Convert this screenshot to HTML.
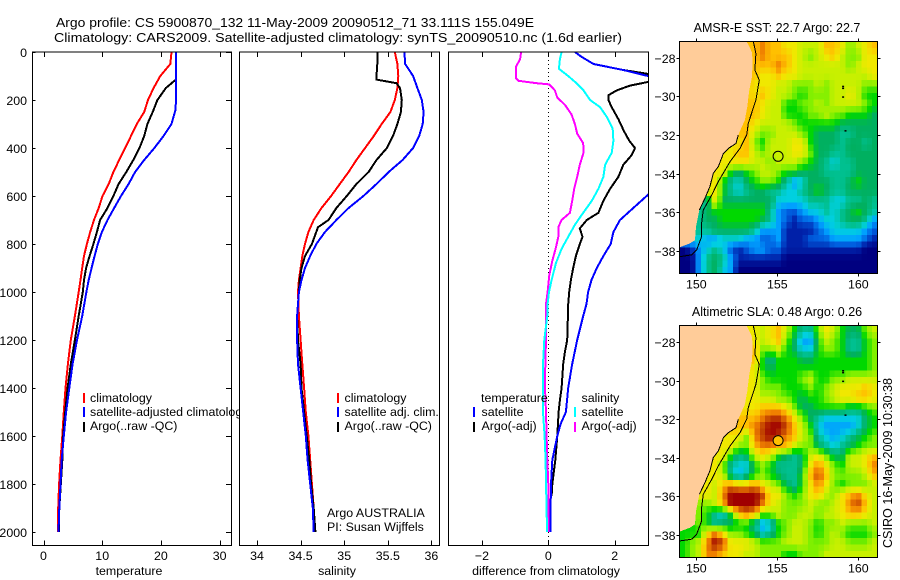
<!DOCTYPE html>
<html lang="en">
<head>
<meta charset="utf-8">
<title>Argo profile chart</title>
<style>
html,body{margin:0;padding:0;background:#fff;}
svg{display:block;font-family:"Liberation Sans",sans-serif;font-size:12.4px;fill:#000;}
text{fill:#000;}
</style>
</head>
<body>
<svg id="chart" xmlns="http://www.w3.org/2000/svg" width="900" height="580" viewBox="0 0 900 580">
  <rect x="0" y="0" width="900" height="580" fill="#fff"/>
  <text x="56" y="27" font-size="13" textLength="478" lengthAdjust="spacingAndGlyphs">Argo profile: CS 5900870_132 11-May-2009 20090512_71 33.111S 155.049E</text>
  <text x="54" y="42" font-size="13" textLength="568" lengthAdjust="spacingAndGlyphs">Climatology: CARS2009. Satellite-adjusted climatology: synTS_20090510.nc (1.6d earlier)</text>
  <g id="panel-t"></g>
  <g id="panel-s"></g>
  <g id="panel-d"></g>
  <g id="map-sst"></g>
  <g id="map-sla"></g>
  <text x="777" y="32" text-anchor="middle" font-size="12.5">AMSR-E SST: 22.7 Argo: 22.7</text>
  <text x="777" y="316" text-anchor="middle" font-size="12.5">Altimetric SLA: 0.48 Argo: 0.26</text>
  <text transform="translate(892,463) rotate(-90)" text-anchor="middle" font-size="12.6">CSIRO 16-May-2009 10:30:38</text>
</svg>
<script>
// ---------- profile data ----------
const depths = [0,50,100,150,200,250,300,350,400,450,500,550,600,650,700,750,800,850,900,950,1000,1100,1200,1300,1400,1500,1600,1700,1800,1900,2000];
const tempClim = [21.8,21.6,19.9,18.75,17.8,17.15,15.9,14.9,13.9,12.9,11.9,11.1,10.05,9.4,8.6,7.95,7.4,6.9,6.6,6.3,6.0,5.35,4.65,4.15,3.75,3.45,3.2,2.9,2.65,2.5,2.45];
const tempSatDepths = [0,50,100,150,200,240,300,350,400,450,500,550,600,650,700,750,800,850,900,950,1000,1100,1200,1300,1400,1500,1600,1700,1800,1900,2000];
const tempSat = [22.55,22.55,22.55,22.55,22.55,22.5,21.8,20.45,18.9,17.15,15.6,14.5,13.2,12.05,10.9,9.95,9.25,8.7,8.2,7.7,7.3,6.6,5.7,4.95,4.4,3.85,3.45,3.1,2.9,2.7,2.55];
const argoTempDepths = [0,115,120,150,200,250,300,350,400,450,500,550,600,650,700,750,800,850,900,950,1000,1100,1200,1300,1400,1500,1600,1700,1800,1900,2000];
const tempArgo = [22.6,22.6,22.3,20.85,19.4,18.6,17.7,17.15,16.35,15.3,14.1,12.8,11.9,10.9,9.65,9.1,8.5,7.85,7.25,6.9,6.7,6.0,5.35,4.65,4.1,3.7,3.35,3.2,2.95,2.7,2.6];
const salClim = [35.58,35.61,35.62,35.61,35.58,35.53,35.43,35.34,35.24,35.14,35.05,34.95,34.85,34.74,34.65,34.59,34.55,34.52,34.5,34.48,34.47,34.48,34.5,34.52,34.54,34.56,34.59,34.61,34.63,34.65,34.66];
const salSat = [35.69,35.7,35.79,35.84,35.89,35.91,35.9,35.86,35.79,35.67,35.51,35.37,35.22,35.05,34.91,34.78,34.68,34.61,34.55,34.51,34.48,34.46,34.46,34.47,34.5,34.53,34.56,34.58,34.61,34.64,34.65];
const argoSalDepths = [0,50,100,115,130,150,200,250,300,350,400,450,500,550,600,650,700,730,800,850,900,950,1000,1100,1200,1300,1400,1500,1600,1700,1800,1900,2000];
const salArgo = [35.38,35.38,35.37,35.37,35.6,35.64,35.66,35.65,35.61,35.56,35.49,35.37,35.28,35.14,35.03,34.91,34.82,34.7,34.63,34.55,34.51,34.49,34.48,34.46,34.47,34.5,34.51,34.54,34.57,34.6,34.62,34.65,34.67];
const diffTempSatDepths = [0,20,50,75,100,200,300,400,500,600,650,700,750,800,850,900,950,1000,1050,1100,1200,1300,1400,1500,1550,1600,1700,1800,1900,2000];
const diffTempSat = [0.8,1.0,1.36,2.26,3.0,4.6,5.9,5.0,3.7,2.96,2.56,2.16,1.96,1.88,1.66,1.46,1.3,1.2,1.15,1.05,0.87,0.72,0.6,0.53,0.37,0.27,0.12,0.08,0.07,0.07];
const diffTempArgoDepths = [0,20,50,75,100,125,140,160,180,200,230,280,330,370,400,430,470,520,570,620,670,700,735,770,800,850,900,950,1000,1050,1100,1200,1250,1300,1400,1450,1500,1600,1700,1800,1850];
const diffTempArgo = [0.8,1.0,1.36,2.26,3.4,3.0,2.46,2.06,1.81,1.81,1.91,2.11,2.28,2.44,2.61,2.51,2.26,2.11,1.86,1.66,1.51,1.16,0.95,1.03,0.95,0.83,0.75,0.68,0.63,0.6,0.59,0.57,0.5,0.45,0.4,0.35,0.31,0.27,0.21,0.12,0.1];
const diffSalSatDepths = [0,30,70,100,130,160,200,230,270,320,370,420,470,520,570,620,680,720,770,820,880,950,1000,1050,1100,1200,1300,1400,1500,1600,1700,1800,1900,2000];
const diffSalSat = [0.4,0.35,0.32,0.6,0.85,1.06,1.26,1.56,1.76,1.94,1.96,1.91,1.71,1.66,1.51,1.31,1.0,0.8,0.6,0.4,0.23,0.1,0.02,-0.02,-0.03,-0.12,-0.16,-0.16,-0.16,-0.11,-0.08,-0.07,-0.05,-0.04];
const diffSalArgoDepths = [0,30,60,110,120,130,135,160,190,220,260,300,340,380,420,470,520,570,620,670,700,730,770,820,870,930,1000,1050,1200,1300,1400,1500,1600,1700,1800,2000];
const diffSalArgo = [-0.82,-0.85,-0.97,-0.97,-0.9,-0.35,0.03,0.2,0.27,0.5,0.7,0.8,0.87,1.05,1.06,0.95,0.87,0.78,0.72,0.65,0.4,0.3,0.3,0.22,0.12,0.03,-0.02,-0.07,-0.07,-0.09,-0.1,-0.07,-0.05,-0.03,0,0.01];

// ---------- tick labels ----------
const depthTicks = [0,200,400,600,800,1000,1200,1400,1600,1800,2000];
const tempTicks = [0,10,20,30];
const salTicks = [34,34.5,35,35.5,36];
const diffTicks = [-2,0,2];
const lonTicks = [150,155,160];
const latTicks = [-28,-30,-32,-34,-36,-38];

// ---------- map data ----------
const coastLon = [153.11,153.27,153.42,153.48,153.44,153.27,153.15,153.0,152.59,152.45,151.98,151.67,151.36,151.05,150.84,150.53,150.19,149.98,149.92,149.61,148.95];
const coastLat = [-27.17,-27.43,-27.69,-28.12,-28.98,-29.68,-30.54,-31.23,-32.0,-32.44,-32.7,-32.96,-33.65,-33.99,-34.68,-35.29,-35.89,-36.76,-37.45,-37.62,-37.83];
const isobathLon = [153.52,153.68,153.62,153.89,153.68,153.21,153.11,152.7,152.08,151.36,150.95,150.43,150.33,150.33,150.02,149.71,148.95];
const isobathLat = [-27.15,-27.78,-28.64,-29.16,-30.19,-31.4,-32.0,-32.7,-33.39,-34.42,-35.12,-35.89,-36.58,-37.27,-37.97,-38.22,-38.31];
const islandLon = [159.0,159.0,159.0,159.15];
const islandLat = [-29.45,-29.55,-30.0,-31.75];
const profileLon = 155.05;
const profileLat = -33.11;
const colorScale = ['#000080','#0020a8','#0060e0','#00a0ff','#00d0e0','#00c090','#00b060','#00d800','#80f000','#c8f000','#f0e800','#ffc000','#f08000','#c04000','#a00000'];
const sstGrid = [
[11,11,11,11,11,11,11,11,11,11,12,11,11,10,10,9,9,9,11,11,10,8,9,10,11],
[11,11,11,11,11,11,11,11,11,11,12,11,11,11,10,9,8,9,10,11,9,8,8,10,10],
[11,11,11,11,11,11,11,11,11,11,11,11,12,11,10,9,9,9,9,9,9,8,9,10,10],
[11,11,11,11,11,11,11,11,11,11,10,10,11,10,10,9,9,9,9,9,9,9,9,9,10],
[11,11,11,11,11,11,11,11,11,10,10,10,9,9,8,8,8,9,8,9,9,9,9,8,8],
[11,11,11,11,11,11,11,11,11,10,11,10,9,9,8,7,8,8,8,9,9,10,9,7,7],
[11,11,11,11,11,11,11,11,11,11,10,9,9,7,7,8,8,9,8,9,9,9,9,8,7],
[11,11,11,11,11,11,11,11,11,11,10,9,9,7,7,7,8,8,9,8,8,7,7,7,6],
[11,11,11,11,11,11,11,11,11,10,9,9,9,9,8,7,7,7,7,7,6,6,6,6,6],
[11,11,11,11,11,11,11,11,11,9,8,8,9,9,9,8,7,6,6,6,5,5,6,6,6],
[10,10,10,10,10,10,10,10,11,8,7,9,9,9,10,10,7,6,6,6,5,6,6,5,6],
[10,10,10,10,10,10,10,11,11,9,8,9,9,9,10,10,8,6,6,5,5,6,6,6,6],
[10,10,10,10,10,10,10,10,10,9,9,8,9,9,9,8,7,6,5,4,5,5,6,6,6],
[10,10,10,10,10,10,7,6,7,8,9,9,8,7,7,6,6,6,5,5,5,5,6,6,6],
[10,10,10,10,10,7,5,4,6,7,8,8,7,5,3,4,6,6,6,5,5,6,7,6,6],
[10,10,10,10,10,7,5,4,5,6,6,5,5,4,4,5,6,7,6,5,5,6,6,6,6],
[5,5,5,5,10,6,6,6,6,6,6,6,4,4,4,4,5,5,5,4,4,5,5,6,5],
[5,5,5,6,7,7,7,7,7,7,7,5,3,2,2,3,4,4,5,4,5,6,7,6,5],
[5,5,5,6,6,7,7,7,7,7,6,5,3,2,1,2,2,3,4,4,5,6,6,5,3],
[5,5,5,5,6,6,6,6,6,5,3,3,3,1,1,1,1,2,3,4,4,4,4,3,2],
[4,4,4,3,3,4,4,4,3,3,2,2,3,1,1,1,2,2,2,3,3,3,3,2,1],
[0,1,3,4,5,4,2,1,2,3,3,2,2,1,1,1,1,1,1,1,1,1,1,0,0],
[0,0,3,5,6,5,3,1,1,1,1,1,1,0,0,0,0,0,0,0,0,0,0,0,0],
[0,0,3,5,6,4,3,0,0,0,0,0,0,0,0,0,0,0,0,0,0,0,0,0,0]
];
const slaGrid = [
[10,10,10,10,10,10,10,10,10,10,9,10,11,9,7,5,5,8,10,9,7,6,6,8,9],
[10,10,10,10,10,10,10,10,10,10,9,10,11,8,6,3,3,7,9,8,7,5,5,7,8],
[11,11,11,11,11,11,11,11,11,11,8,8,9,7,6,4,4,7,8,8,7,5,5,7,8],
[11,11,11,11,11,11,11,11,11,11,7,5,7,7,7,6,6,7,7,7,7,7,7,7,8],
[10,10,10,10,10,10,10,10,10,10,7,6,7,7,7,7,7,7,7,7,7,7,7,7,8],
[10,10,10,10,10,10,10,10,10,10,8,7,7,7,7,8,9,7,7,8,8,9,9,9,9],
[10,10,10,10,10,10,10,10,10,10,8,8,8,7,7,7,8,7,8,9,10,10,10,11,10],
[10,10,10,10,10,10,10,10,10,10,9,9,8,8,7,6,7,7,8,9,10,10,11,11,10],
[10,10,10,10,10,10,10,10,10,10,11,11,11,10,8,6,6,7,7,7,7,6,6,7,8],
[11,11,11,11,11,11,11,11,11,11,12,13,13,12,10,8,6,5,4,4,4,4,4,6,7],
[11,11,11,11,11,11,11,11,11,12,13,14,14,13,11,9,7,4,3,3,3,3,4,6,7],
[10,10,10,10,10,10,10,10,8,12,13,14,13,12,11,9,8,5,4,3,4,5,6,7,8],
[10,10,10,10,10,10,10,8,8,11,12,12,11,11,9,8,8,6,5,4,5,6,7,8,8],
[10,10,10,10,10,10,7,5,6,9,10,9,7,6,5,6,9,10,8,6,6,9,9,10,11],
[10,10,10,10,10,8,5,4,4,7,8,7,5,5,5,6,10,12,10,8,7,9,9,10,12],
[10,10,10,10,10,9,5,3,5,7,8,7,6,5,5,7,11,13,11,8,8,8,8,9,11],
[10,10,10,10,9,11,12,11,11,12,10,9,8,6,5,7,10,12,10,8,7,8,8,8,9],
[10,10,10,10,9,12,14,14,14,14,13,10,10,8,7,8,10,11,9,8,10,11,12,10,9],
[8,8,8,8,9,11,14,14,14,14,12,10,9,8,8,8,9,8,8,9,10,12,13,11,9],
[8,8,8,7,5,4,7,11,12,11,8,8,9,8,8,9,9,8,9,9,10,11,11,10,9],
[7,7,8,7,5,6,6,7,7,5,3,4,7,8,9,9,8,7,8,8,9,8,8,8,9],
[7,7,7,10,12,10,8,8,7,6,4,5,7,8,9,9,8,7,8,9,8,7,7,7,8],
[7,8,9,12,14,13,10,10,10,9,8,8,8,9,9,9,8,8,8,9,9,8,8,8,9],
[7,8,9,12,12,11,10,10,9,9,8,8,8,7,7,8,8,8,9,9,9,9,9,9,9]
];

// ---------- axis functions ----------
const NS = 'http://www.w3.org/2000/svg';
const PLOT_TOP = 52, PLOT_BOTTOM = 545.5;
function yDepth(d){ return 52 + d * 0.24; }
function xTemp(v){ return 43.5 + v * 5.87; }
function xSal(v){ return 257 + (v - 34) * 87.2; }
function xDiff(v){ return 548.3 + v * 33.2; }

function make(parent, tag, attrs){
  const el = document.createElementNS(NS, tag);
  for (const k in attrs) el.setAttribute(k, attrs[k]);
  parent.appendChild(el);
  return el;
}
function label(parent, x, y, str, anchor, name){
  const el = make(parent, 'text', {x: x, y: y, 'text-anchor': anchor || 'start'});
  el.textContent = str;
  
  
  return el;
}
function seg(parent, x1, y1, x2, y2, name){
  const el = make(parent, 'line', {x1: x1, y1: y1, x2: x2, y2: y2, stroke: '#000', 'stroke-width': 1, 'shape-rendering': 'crispEdges'});
  
  
  return el;
}
function curve(parent, xs, ds, xFn, color, name, clip){
  const pts = xs.map(function(v, i){ return xFn(v).toFixed(1) + ',' + yDepth(ds[i]).toFixed(1); }).join(' ');
  const el = make(parent, 'polyline', {points: pts, fill: 'none', stroke: color, 'stroke-width': 2, 'shape-rendering': 'crispEdges'});
  if (clip) el.setAttribute('clip-path', 'url(#' + clip + ')');
  
  
  return el;
}
function swatch(parent, x, y, color, name){
  const el = make(parent, 'rect', {x: x, y: y, width: 2, height: 10, fill: color});
  
  
  return el;
}
function frame(parent, x0, x1, y0, y1, name, width){
  const el = make(parent, 'rect', {x: x0, y: y0, width: x1 - x0, height: y1 - y0, fill: 'none', stroke: '#000', 'stroke-width': width, 'shape-rendering': 'crispEdges'});
  
  
  return el;
}

// ---------- profile panels ----------
function panel(id, x0, x1, ticks, xFn, xFmt, xTitle, titleX){
  const g = document.getElementById(id);
  const bg = make(g, 'rect', {x: x0, y: PLOT_TOP, width: x1 - x0, height: PLOT_BOTTOM - PLOT_TOP, fill: '#fff'});
  
  
  ticks.forEach(function(t){
    const x = Math.round(xFn(t)) + 0.5;
    seg(g, x, PLOT_TOP, x, PLOT_TOP + 5, id + '-top-tick');
    seg(g, x, PLOT_BOTTOM, x, PLOT_BOTTOM - 5, id + '-bottom-tick');
    label(g, xFn(t), 560, xFmt(t), 'middle', id + '-x-tick-label');
  });
  label(g, titleX, 575, xTitle, 'middle', id + '-x-axis-title');
  return g;
}

const gT = panel('panel-t', 32.5, 231.5, tempTicks, xTemp, String, 'temperature', 129);
curve(gT, tempClim, depths, xTemp, '#ff0000', 'temperature-climatology-line');
curve(gT, tempArgo, argoTempDepths, xTemp, '#000000', 'temperature-argo-line');
curve(gT, tempSat, tempSatDepths, xTemp, '#0000ff', 'temperature-satellite-line');
depthTicks.forEach(function(d){
  const y = Math.round(yDepth(d)) + 0.5;
  seg(gT, 32.5, y, 35.5, y, 'depth-left-tick');
  seg(gT, 231.5, y, 226, y, 'depth-right-tick');
  label(gT, 27, y + 4.5, String(d), 'end', 'depth-tick-label');
});
swatch(gT, 83, 393, '#ff0000', 'legend-swatch-climatology');
swatch(gT, 83, 407, '#0000ff', 'legend-swatch-satellite');
swatch(gT, 83, 422, '#000000', 'legend-swatch-argo');
label(gT, 90, 402, 'climatology', 'start', 'legend-entry-climatology');
label(gT, 90, 416, 'satellite-adjusted climatology', 'start', 'legend-entry-satellite');
label(gT, 90, 430, 'Argo(..raw -QC)', 'start', 'legend-entry-argo');
frame(gT, 32.5, 231.5, PLOT_TOP, PLOT_BOTTOM, 'temperature-axes-frame', 1);

const gS = panel('panel-s', 239.5, 439.5, salTicks, xSal, String, 'salinity', 337);
curve(gS, salClim, depths, xSal, '#ff0000', 'salinity-climatology-line');
curve(gS, salArgo, argoSalDepths, xSal, '#000000', 'salinity-argo-line');
curve(gS, salSat, depths, xSal, '#0000ff', 'salinity-satellite-line');
swatch(gS, 337, 393, '#ff0000', 'salinity-legend-swatch-climatology');
swatch(gS, 337, 407, '#0000ff', 'salinity-legend-swatch-satellite');
swatch(gS, 337, 422, '#000000', 'salinity-legend-swatch-argo');
label(gS, 344.5, 402, 'climatology', 'start', 'salinity-legend-climatology');
label(gS, 344.5, 416, 'satellite adj. clim.', 'start', 'salinity-legend-satellite');
label(gS, 344.5, 430, 'Argo(..raw -QC)', 'start', 'salinity-legend-argo');
label(gS, 327, 517, 'Argo AUSTRALIA', 'start', 'program-label');
label(gS, 327, 531, 'PI: Susan Wijffels', 'start', 'pi-label');
frame(gS, 239.5, 439.5, PLOT_TOP, PLOT_BOTTOM, 'salinity-axes-frame', 1);

const gD = panel('panel-d', 448.5, 648.5, diffTicks, xDiff, function(t){ return t < 0 ? '\u2212' + (-t) : String(t); }, 'difference from climatology', 546);
const defs = make(gD, 'defs', {});
const cp = make(defs, 'clipPath', {id: 'clip-diff'});
make(cp, 'rect', {x: 448.5, y: PLOT_TOP, width: 200, height: PLOT_BOTTOM - PLOT_TOP});
const zero = make(gD, 'line', {x1: 548.5, y1: PLOT_TOP, x2: 548.5, y2: PLOT_BOTTOM, stroke: '#000', 'stroke-width': 1, 'stroke-dasharray': '1 3'});


curve(gD, diffTempArgo, diffTempArgoDepths, xDiff, '#000000', 'diff-temperature-argo-line', 'clip-diff');
curve(gD, diffTempSat, diffTempSatDepths, xDiff, '#0000ff', 'diff-temperature-satellite-line', 'clip-diff');
curve(gD, diffSalArgo, diffSalArgoDepths, xDiff, '#ff00ff', 'diff-salinity-argo-line', 'clip-diff');
curve(gD, diffSalSat, diffSalSatDepths, xDiff, '#00ffff', 'diff-salinity-satellite-line', 'clip-diff');
swatch(gD, 473, 407, '#0000ff', 'diff-legend-swatch-temperature-satellite');
swatch(gD, 473, 422, '#000000', 'diff-legend-swatch-temperature-argo');
swatch(gD, 574, 407, '#00ffff', 'diff-legend-swatch-salinity-satellite');
swatch(gD, 574, 422, '#ff00ff', 'diff-legend-swatch-salinity-argo');
label(gD, 481, 402, 'temperature', 'start', 'diff-legend-temperature-heading');
label(gD, 481.5, 416, 'satellite', 'start', 'diff-legend-temperature-satellite');
label(gD, 481.5, 430, 'Argo(-adj)', 'start', 'diff-legend-temperature-argo');
label(gD, 581.5, 402, 'salinity', 'start', 'diff-legend-salinity-heading');
label(gD, 581.5, 416, 'satellite', 'start', 'diff-legend-salinity-satellite');
label(gD, 581.5, 430, 'Argo(-adj)', 'start', 'diff-legend-salinity-argo');
frame(gD, 448.5, 648.5, PLOT_TOP, PLOT_BOTTOM, 'difference-axes-frame', 1);

// ---------- maps ----------
function colorFor(val){
  const v = Math.max(0, Math.min(colorScale.length - 1, val));
  const lo = Math.floor(v), hi = Math.min(colorScale.length - 1, lo + 1), f = v - lo;
  const a = parseInt(colorScale[lo].slice(1), 16), b = parseInt(colorScale[hi].slice(1), 16);
  const mix = function(shift){ return Math.round(((a >> shift) & 255) * (1 - f) + ((b >> shift) & 255) * f); };
  return 'rgb(' + mix(16) + ',' + mix(8) + ',' + mix(0) + ')';
}
function sampleGrid(grid, u, v){
  const rows = grid.length, cols = grid[0].length;
  const x = Math.max(0, Math.min(cols - 1, u * cols - 0.5)), y = Math.max(0, Math.min(rows - 1, v * rows - 0.5));
  const i = Math.floor(x), j = Math.floor(y);
  const i2 = Math.min(cols - 1, i + 1), j2 = Math.min(rows - 1, j + 1);
  const fx = x - i, fy = y - j;
  return (grid[j][i] * (1 - fx) + grid[j][i2] * fx) * (1 - fy) + (grid[j2][i] * (1 - fx) + grid[j2][i2] * fx) * fy;
}
function drawMap(id, grid, topY, lat28Y, markerFill){
  const g = document.getElementById(id);
  const left = 679.5, right = 877.5, bottom = topY + 232;
  const xLon = function(lon){ return 696.3 + (lon - 150) * 16.2; };
  const yLat = function(lat){ return lat28Y + (-28 - lat) * 19.3; };
  const clipId = 'clip-' + id;
  const mapDefs = make(g, 'defs', {});
  const mapClip = make(mapDefs, 'clipPath', {id: clipId});
  make(mapClip, 'rect', {x: left, y: topY, width: right - left, height: bottom - topY});
  const body = make(g, 'g', {'clip-path': 'url(#' + clipId + ')'});
  
  
  const dispCols = 37, dispRows = 36;
  const cw = (right - left) / dispCols, ch = (bottom - topY) / dispRows;
  for (let j = 0; j < dispRows; j++) {
    for (let i = 0; i < dispCols; i++) {
      const cell = make(body, 'rect', {
        x: (left + i * cw).toFixed(2), y: (topY + j * ch).toFixed(2),
        width: (cw + 0.4).toFixed(2), height: (ch + 0.4).toFixed(2),
        fill: colorFor(sampleGrid(grid, (i + 0.5) / dispCols, (j + 0.5) / dispRows)), 'shape-rendering': 'crispEdges'
      });
      
      
    }
  }
  const coastPts = coastLon.map(function(lon, i){ return xLon(lon).toFixed(1) + ',' + yLat(coastLat[i]).toFixed(1); });
  const land = make(body, 'polygon', {points: coastPts.join(' ') + ' ' + left + ',' + yLat(coastLat[coastLat.length - 1]).toFixed(1) + ' ' + left + ',' + topY + ' ' + xLon(coastLon[0]).toFixed(1) + ',' + topY, fill: '#ffcc99', 'shape-rendering': 'crispEdges'});
  
  
  const shore = make(body, 'polyline', {points: coastPts.slice(8, 17).join(' '), fill: 'none', stroke: '#000', 'stroke-width': 1, 'shape-rendering': 'crispEdges'});
  
  
  const isoPts = isobathLon.map(function(lon, i){ return xLon(lon).toFixed(1) + ',' + yLat(isobathLat[i]).toFixed(1); }).join(' ');
  const iso = make(body, 'polyline', {points: isoPts, fill: 'none', stroke: '#000', 'stroke-width': 1, 'shape-rendering': 'crispEdges'});
  
  
  islandLon.forEach(function(lon, i){
    const dot = make(body, 'rect', {x: xLon(lon).toFixed(1), y: yLat(islandLat[i]).toFixed(1), width: 2, height: 1.5, fill: '#000'});
    
    
  });
  const mark = make(body, 'circle', {cx: xLon(profileLon).toFixed(1), cy: yLat(profileLat).toFixed(1), r: 5, fill: markerFill, stroke: '#000', 'stroke-width': 1});
  
  
  frame(g, left, right, topY, bottom, id + '-frame', 1);
  lonTicks.forEach(function(lon){
    const x = Math.round(xLon(lon)) + 0.5;
    seg(g, x, topY, x, topY - 3, id + '-lon-top-tick');
    seg(g, x, bottom, x, bottom + 3, id + '-lon-bottom-tick');
    label(g, xLon(lon), bottom + 15, String(lon), 'middle', id + '-lon-label');
  });
  latTicks.forEach(function(lat){
    const y = Math.round(yLat(lat)) + 0.5;
    seg(g, left, y, left - 3, y, id + '-lat-left-tick');
    seg(g, right, y, right + 3, y, id + '-lat-right-tick');
    label(g, left - 4, y + 4.5, '\u2212' + (-lat), 'end', id + '-lat-label');
  });
}
drawMap('map-sst', sstGrid, 41.5, 57.7, 'none');
drawMap('map-sla', slaGrid, 325.5, 342, '#ffc000');
</script>
</body>
</html>
